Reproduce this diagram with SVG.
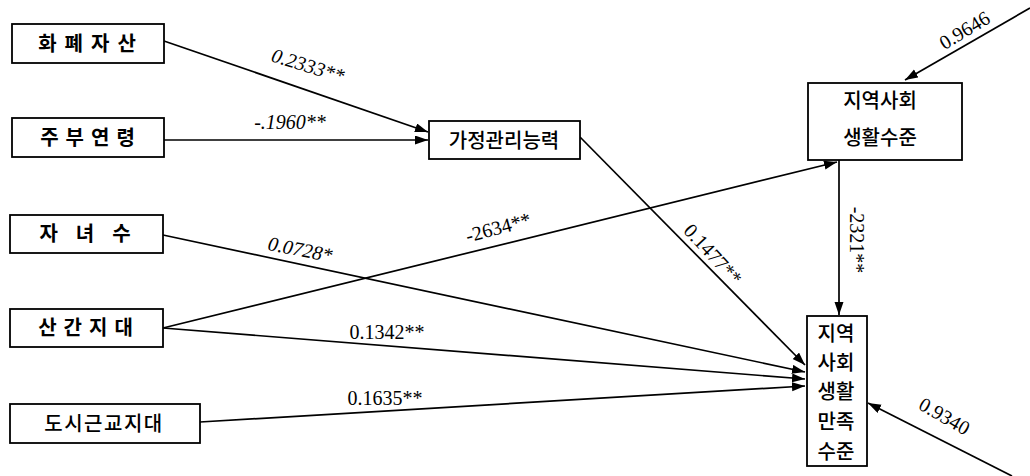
<svg xmlns="http://www.w3.org/2000/svg" width="1030" height="476" viewBox="0 0 1030 476">
<style>
.box{fill:#fff;stroke:#000;stroke-width:1.8}
.kr{font-family:"Noto Sans CJK KR","Noto Sans",sans-serif;font-size:20px;font-weight:500;fill:#000;text-anchor:middle}
.b{font-weight:700}
.ln{stroke:#000;stroke-width:1.7;fill:none}
.num{font-family:"Liberation Serif","DejaVu Serif",serif;font-size:20px;fill:#000}
.it{font-style:italic}
</style>
<defs>
<marker id="ah" markerUnits="userSpaceOnUse" markerWidth="14" markerHeight="10" refX="13" refY="4.5" orient="auto">
<path d="M0,0 L13,4.5 L0,9 z" fill="#000"/>
</marker>
</defs>
<g id="connectors">
<line class="ln" x1="164" y1="41" x2="428" y2="132" marker-end="url(#ah)"/>
<line class="ln" x1="164" y1="140" x2="428" y2="140" marker-end="url(#ah)"/>
<line class="ln" x1="580" y1="137" x2="805" y2="365" marker-end="url(#ah)"/>
<line class="ln" x1="163" y1="235" x2="805" y2="372" marker-end="url(#ah)"/>
<line class="ln" x1="163" y1="328" x2="837" y2="162" marker-end="url(#ah)"/>
<line class="ln" x1="163" y1="328" x2="805" y2="379" marker-end="url(#ah)"/>
<line class="ln" x1="200" y1="422" x2="805" y2="386" marker-end="url(#ah)"/>
<line class="ln" x1="839" y1="160" x2="839" y2="315" marker-end="url(#ah)"/>
<line class="ln" x1="1030" y1="8" x2="905" y2="80" marker-end="url(#ah)"/>
<line class="ln" x1="1012" y1="476" x2="868" y2="403" marker-end="url(#ah)"/>
</g>
<g id="labels">
<text class="num it" transform="translate(306,72) rotate(17)" text-anchor="middle">0.2333**</text>
<text class="num it" x="290" y="129" text-anchor="middle">-.1960**</text>
<text class="num it" transform="translate(299,256) rotate(11)" text-anchor="middle">0.0728*</text>
<text class="num" transform="translate(500,234) rotate(-15)" text-anchor="middle">-2634**</text>
<text class="num" x="387" y="339" text-anchor="middle">0.1342**</text>
<text class="num" x="385" y="405" text-anchor="middle">0.1635**</text>
<text class="num" transform="translate(708,259) rotate(47)" text-anchor="middle">0.1477**</text>
<text class="num" transform="translate(850,240) rotate(90)" text-anchor="middle">-2321**</text>
<text class="num" transform="translate(968,36) rotate(-31)" text-anchor="middle">0.9646</text>
<text class="num" transform="translate(941,422) rotate(30)" text-anchor="middle">0.9340</text>
</g>
<g id="n1"><rect class="box" x="12" y="24" width="152" height="39"/><text class="kr b" x="91" y="51" letter-spacing="8">화폐자산</text></g>
<g id="n2"><rect class="box" x="12" y="118" width="152" height="39"/><text class="kr b" x="91" y="145" letter-spacing="7">주부연령</text></g>
<g id="n3"><rect class="box" x="10" y="215" width="153" height="38"/><text class="kr b" x="94" y="241" letter-spacing="18">자녀수</text></g>
<g id="n4"><rect class="box" x="10" y="309" width="153" height="38"/><text class="kr b" x="89" y="335" letter-spacing="7">산간지대</text></g>
<g id="n5"><rect class="box" x="10" y="404" width="190" height="39"/><text class="kr" x="104" y="431" letter-spacing="1.5">도시근교지대</text></g>
<g id="n6"><rect class="box" x="429" y="121" width="151" height="38"/><text class="kr" x="504" y="148">가정관리능력</text></g>
<g id="n7"><rect class="box" x="808" y="83" width="154" height="77"/><text class="kr" x="880" y="108">지역사회</text><text class="kr" x="880" y="145">생활수준</text></g>
<g id="n8"><rect class="box" x="807" y="316" width="60" height="150"/>
<text class="kr" x="836" y="341">지역</text><text class="kr" x="836" y="370">사회</text><text class="kr" x="836" y="399">생활</text><text class="kr" x="836" y="429">만족</text><text class="kr" x="836" y="459">수준</text></g>
</svg>
